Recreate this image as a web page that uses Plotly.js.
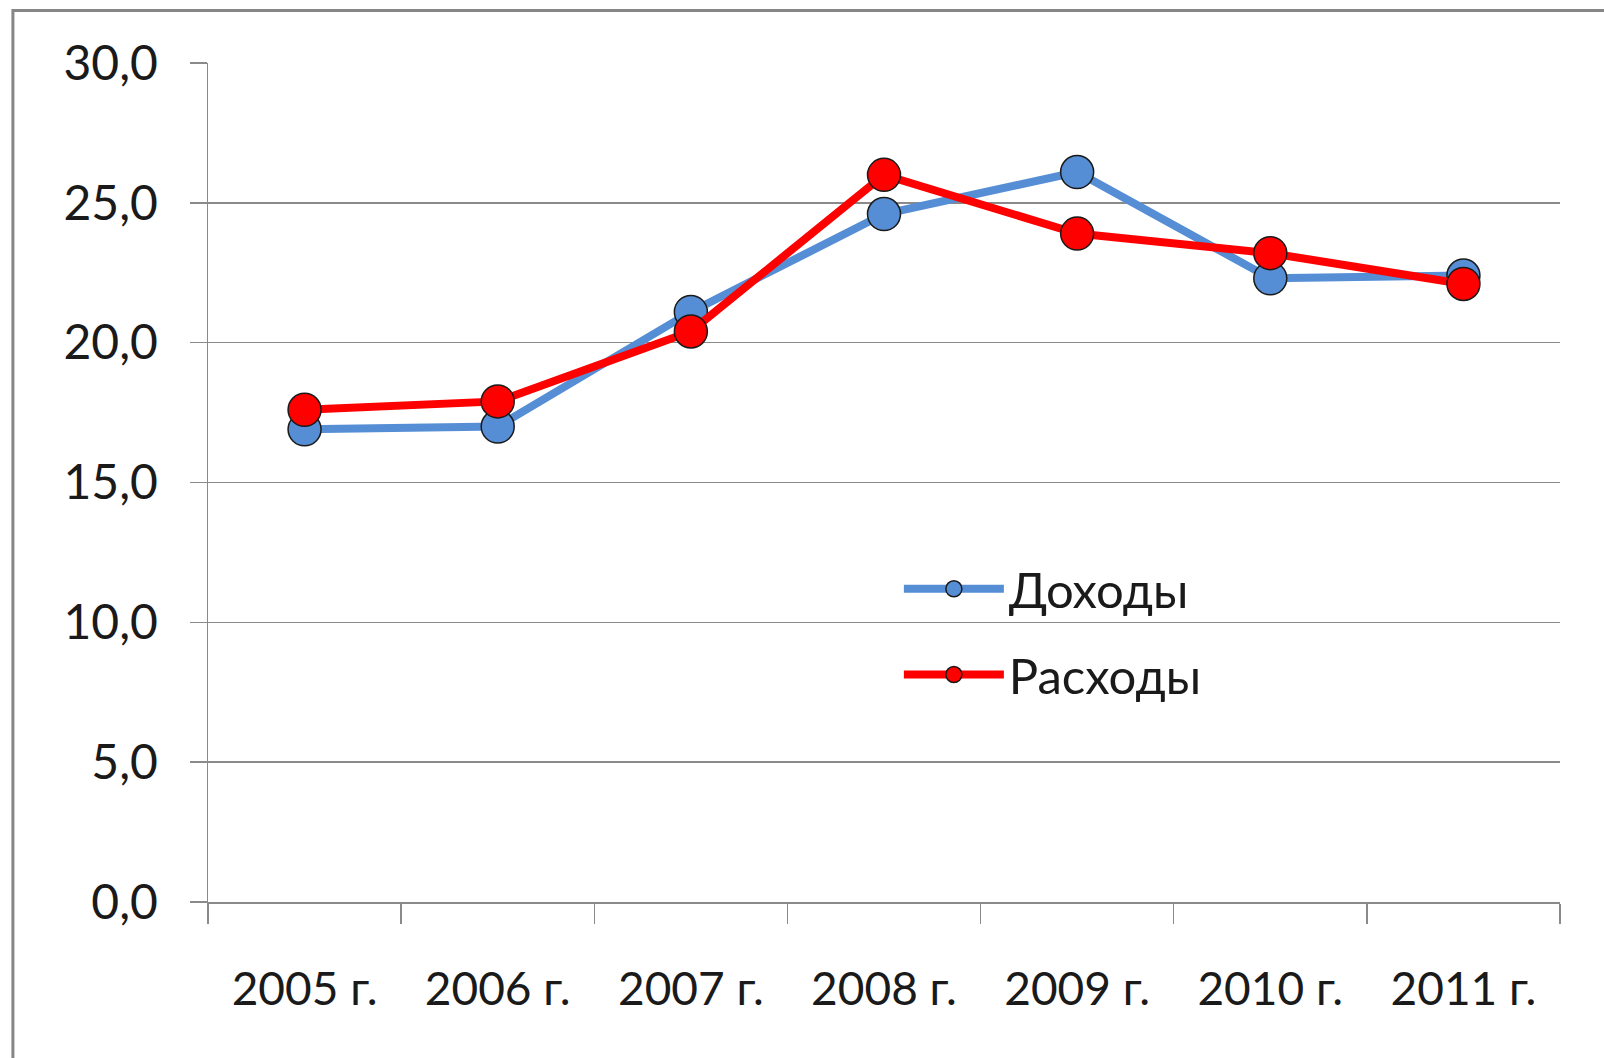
<!DOCTYPE html>
<html>
<head>
<meta charset="utf-8">
<script src="https://cdn.plot.ly/plotly-3.0.1.min.js"></script>
<style>html,body{margin:0;padding:0;background:#fff;}#chart{width:1604px;height:1058px;}</style>
</head>
<body>
<div id="chart"></div>
<script>
const years = ['2005 г.', '2006 г.', '2007 г.', '2008 г.', '2009 г.', '2010 г.', '2011 г.'];
const incomeName = 'Доходы';
const expenseName = 'Расходы';
const income = [16.9, 17.0, 21.1, 24.6, 26.1, 22.3, 22.4];
const expense = [17.6, 17.9, 20.4, 26.0, 23.9, 23.2, 22.1];
const yTicks = [0, 5, 10, 15, 20, 25, 30];

const FONT = 'Lato, Carlito, Calibri, "Open Sans", sans-serif';
const GRID = '#8a8a8a';

const traces = [
  {
    x: years, y: income, name: incomeName, type: 'scatter', mode: 'lines+markers',
    legendgroup: 'a',
    line: {color: '#558ED5', width: 8},
    marker: {color: '#558ED5', size: 33, line: {color: '#1a1a1a', width: 1.5}}
  },
  {
    x: years, y: expense, name: expenseName, type: 'scatter', mode: 'lines+markers',
    legendgroup: 'b',
    line: {color: '#FF0000', width: 8},
    marker: {color: '#FF0000', size: 33, line: {color: '#1a1a1a', width: 1.5}}
  }
];

const layout = {
  width: 1604, height: 1058,
  margin: {l: 208, r: 44, t: 63, b: 156},
  paper_bgcolor: '#fff', plot_bgcolor: '#fff',
  separators: ', ',
  font: {family: FONT, size: 46, color: '#1a1a1a'},
  showlegend: true,
  legend: {
    x: 0.511, y: 0.419, xanchor: 'left', yanchor: 'top',
    bgcolor: 'rgba(0,0,0,0)', tracegroupgap: 19,
    itemwidth: 100, font: {family: FONT, size: 49, color: '#1a1a1a'}
  },
  xaxis: {
    type: 'category', range: [-0.5, 6.5], tickson: 'boundaries',
    showgrid: false, zeroline: false,
    showline: true, linecolor: GRID, linewidth: 1.5,
    ticks: 'outside', ticklen: 20, tickwidth: 1.5, tickcolor: GRID,
    ticklabelstandoff: 46,
    tickfont: {family: FONT, size: 46, color: '#1a1a1a'}
  },
  yaxis: {
    range: [0, 30], tickvals: yTicks, tickformat: '.1f',
    showgrid: true, gridcolor: GRID, gridwidth: 1.5,
    zeroline: false,
    showline: true, linecolor: GRID, linewidth: 1.5,
    ticks: 'outside', ticklen: 17, tickwidth: 1.5, tickcolor: GRID,
    ticklabelstandoff: 22,
    tickfont: {family: FONT, size: 48, color: '#1a1a1a'}
  },
  shapes: [
    {type: 'rect', xref: 'paper', yref: 'paper', x0: -0.1443, x1: 1.2, y0: -0.3, y1: 1.0626,
     line: {color: '#868686', width: 3}, fillcolor: 'rgba(0,0,0,0)', layer: 'below'}
  ]
};

Plotly.newPlot('chart', traces, layout, {displayModeBar: false, staticPlot: true});
</script>
</body>
</html>
